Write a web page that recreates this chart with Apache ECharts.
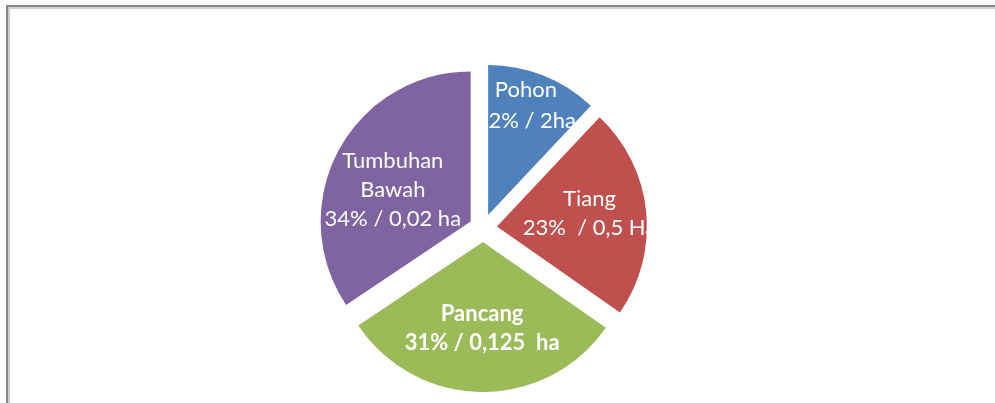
<!DOCTYPE html>
<html>
<head>
<meta charset="utf-8">
<script src="https://cdn.jsdelivr.net/npm/echarts@6/dist/echarts.min.js"></script>
<style>
html,body{margin:0;padding:0;background:#fff;}
#chart{width:995px;height:403px;}
</style>
</head>
<body>
<div id="chart"></div>
<script>
var categories = ['Pohon', 'Tiang', 'Pancang', 'Tumbuhan Bawah'];
var values = [12, 22.7, 30.9, 34.4];
var labelTexts = ['Pohon\n12% / 2ha', 'Tiang\n23%  / 0,5 Ha', 'Pancang\n31% / 0,125  ha', 'Tumbuhan\nBawah\n34% / 0,02 ha'];
var colors = ['#4F81BD', '#C0504D', '#9BBB59', '#8064A2'];
var labelShift = [[9, -37], [15, -5], [0, 8], [-9, 5]];
var lineHeights = [31, 29, 29, 29];

var chart = echarts.init(document.getElementById('chart'), null, {renderer: 'canvas'});
var data = categories.map(function (c, i) {
  return {
    name: c,
    value: values[i],
    selected: true,
    itemStyle: {color: colors[i]},
    label: {
      formatter: labelTexts[i],
      lineHeight: lineHeights[i],
      fontWeight: i === 2 ? 'bold' : 'normal'
    }
  };
});
chart.setOption({
  animation: false,
  backgroundColor: '#fff',
  graphic: [
    {type: 'rect', shape: {x: 9, y: 8, width: 1000, height: 420}, style: {fill: 'none', stroke: '#d0d0d0', lineWidth: 2}, silent: true},
    {type: 'rect', shape: {x: 7, y: 6, width: 1000, height: 420}, style: {fill: 'none', stroke: '#888888', lineWidth: 2}, silent: true}
  ],
  series: [{
    type: 'pie',
    center: [483, 228],
    radius: 150,
    startAngle: 90,
    clockwise: true,
    selectedMode: 'multiple',
    selectedOffset: 14,
    emphasis: {disabled: true},
    avoidLabelOverlap: false,
    label: {
      show: true,
      position: 'inside',
      color: '#fff',
      fontFamily: 'Lato',
      fontSize: 22,
      lineHeight: 29,
      align: 'center'
    },
    labelLine: {show: false},
    labelLayout: function (p) {
      var s = labelShift[p.dataIndex];
      return {dx: s[0], dy: s[1]};
    },
    data: data
  }]
});
</script>
</body>
</html>
